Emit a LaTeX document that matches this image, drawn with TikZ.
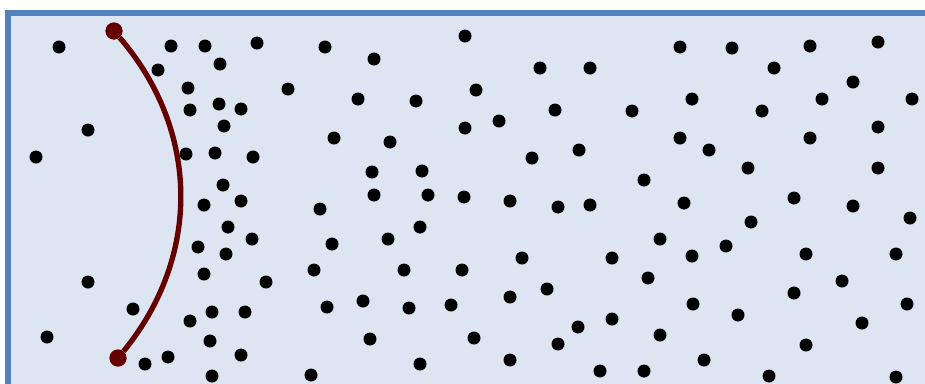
\documentclass[tikz,border=0pt]{standalone}
\usetikzlibrary{positioning}

\definecolor{boxfill}{RGB}{220,229,241}
\definecolor{boxline}{RGB}{79,129,189}
\definecolor{arcred}{RGB}{102,0,0}

\begin{document}
\begin{tikzpicture}[x=0.75pt,y=-0.75pt,
			pt/.style={circle,fill=black,inner sep=0pt,minimum size=9.75pt},
			ep/.style={circle,fill=arcred,inner sep=0pt,minimum size=12.75pt},
			wall/.style={line width=4pt,draw=arcred}]

			\useasboundingbox (0,0) rectangle (925,383);

			% The box (runs past the right and bottom edges)
			\draw[line width=4.5pt,draw=boxline,fill=boxfill]
			(7.5,13) rectangle (960,420);

			% The scattered points
			\foreach \x/\y [count=\i] in {
				59/47, 88/130, 36/157, 88/282, 47/337, 133/309, 145/364, 168/357,
				171/46, 205/46, 220/64, 158/70, 188/88, 190/110, 219/104, 241/109,
				224/126, 186/154, 215/153, 253/157, 223/185, 204/205, 241/201,
				228/227, 198/247, 226/254, 252/239, 204/274, 266/282, 190/321,
				212/312, 245/312, 210/341, 241/355, 212/376,
				257/43, 288/89, 325/47, 374/59, 358/99, 334/138, 390/142, 416/101,
				465/36, 476/90, 465/128, 499/121, 372/172, 422/171, 320/209,
				374/195, 428/195, 464/197, 332/244, 388/239, 420/227, 314/270,
				404/270, 462/270, 327/307, 363/301, 409/308, 451/305, 370/339,
				420/364, 311/375,
				540/68, 590/68, 555/110, 532/158, 579/150, 632/111, 644/180,
				680/47, 732/48, 692/99, 680/138, 709/150, 748/168, 774/68, 762/111,
				810/46, 822/99, 810/138, 853/82, 878/42, 912/99, 878/127, 878/168,
				510/201, 558/207, 590/205, 684/203, 751/222, 794/198, 853/206,
				910/218, 522/258, 612/258, 660/239, 692/256, 726/246, 806/254,
				896/254, 510/297, 547/289, 648/278, 693/304, 738/315, 794/293,
				842/281, 907/304, 474/338, 510/360, 558/344, 578/327, 612/319,
				660/335, 704/360, 600/371, 644/371, 769/376, 806/345, 862/323,
				896/377} {
				\node[pt] (p\i) at (\x,\y) {};
			}

			% The curved wall with its two end points
			\node[ep] (top) at (114,31) {};
			\node[ep] (bot) at (118,358) {};
			\draw[wall] (top) to[bend left=40] (bot);
			\node[ep] at (top) {};
			\node[ep] at (bot) {};

		\end{tikzpicture}
\end{document}
